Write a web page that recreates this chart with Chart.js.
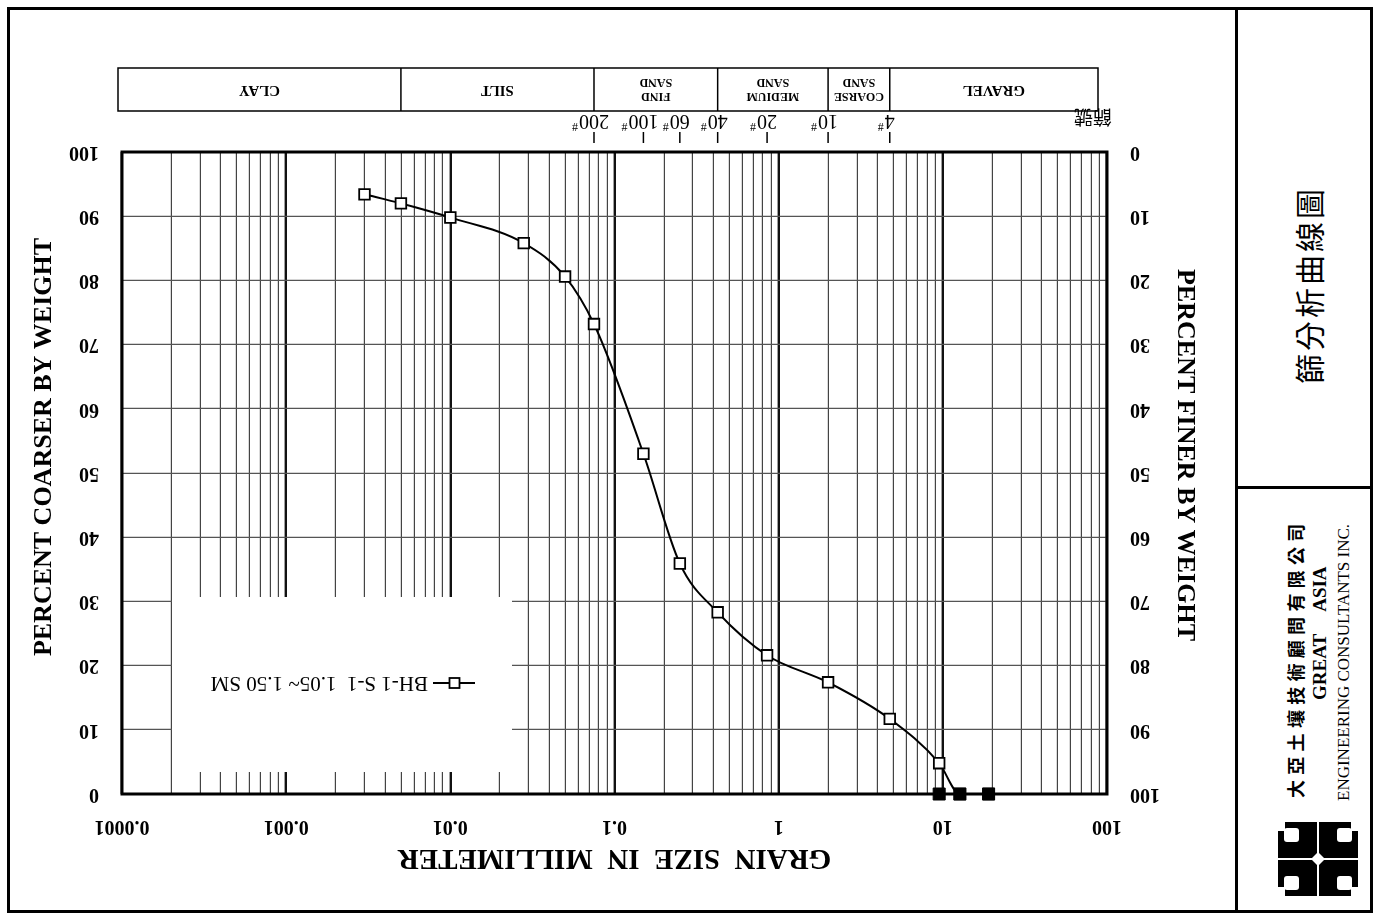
<!DOCTYPE html>
<html>
<head>
<meta charset="utf-8">
<title>篩分析曲線圖</title>
<script src="https://cdn.jsdelivr.net/npm/chart.js@4.4.1/dist/chart.umd.min.js"></script>
<style>
  html, body { margin: 0; padding: 0; background: #fff; }
  #page { position: relative; width: 1374px; height: 915px; overflow: hidden; background: #fff; }
  #frame { position: absolute; left: 7px; top: 7px; width: 1366px; height: 906px; box-sizing: border-box; border: 3px solid #000; }
  #vdiv { position: absolute; left: 1235px; top: 7px; width: 3px; height: 906px; background: #000; }
  #hdiv { position: absolute; left: 1235px; top: 486px; width: 138px; height: 3px; background: #000; }
  /* the sheet is printed upside down, so the whole chart is turned */
  #chartBox { position: absolute; left: 0; top: 0; width: 1238px; height: 915px; transform: rotate(180deg); }
  .rot { position: absolute; transform: rotate(-90deg); white-space: nowrap; color: #000; }
  #logo { position: absolute; left: 1278px; top: 822px; }
</style>
</head>
<body>
<div id="page">
  <div id="frame"></div>
  <div id="vdiv"></div>
  <div id="hdiv"></div>

  <div id="chartBox"><canvas id="sieveChart" width="1238" height="915"></canvas></div>

  <div class="rot" style="left:1196px; top:265px; width:220px; height:40px; line-height:40px; text-align:center; font:30px 'Noto Sans CJK TC'; letter-spacing:3px;">篩分析曲線圖</div>

  <div class="rot" style="left:1150px; top:640px; width:290px; height:26px; line-height:26px; font:bold 18px 'Noto Sans CJK TC'; letter-spacing:5.3px;">大亞土壤技術顧問有限公司</div>
  <div class="rot" style="left:1246px; top:613px; width:150px; height:24px; line-height:24px; font:bold 19px 'Liberation Serif';">GREAT<span style="margin-left:22px">ASIA</span></div>
  <div class="rot" style="left:1195px; top:640px; width:300px; height:22px; line-height:22px; font:17px 'Liberation Serif';">ENGINEERING CONSULTANTS INC.</div>

  <svg id="logo" width="80" height="74" viewBox="0 0 80 74">
    <g id="q">
      <rect x="0" y="0" width="39" height="36" fill="#000"/>
      <rect x="0" y="0" width="7" height="9" fill="#fff"/>
      <rect x="6" y="6" width="15" height="14" rx="3" fill="#fff"/>
    </g>
    <use href="#q" transform="translate(80,0) scale(-1,1)"/>
    <use href="#q" transform="translate(0,74) scale(1,-1)"/>
    <use href="#q" transform="translate(80,74) scale(-1,-1)"/>
    <polygon points="40,30 47,37 40,44 33,37" fill="#fff"/>
  </svg>
</div>

<script>
// BH-1 S-1, 1.05~1.50 m : grain size (mm) and percent finer (%)
const grainSize = [0.003, 0.005, 0.01, 0.028, 0.05, 0.075, 0.15, 0.25, 0.425, 0.85, 2.0, 4.75, 9.5, 12.7, 19.0];
const percentFiner = [6.6, 8.0, 10.2, 14.2, 19.4, 26.8, 47.0, 64.1, 71.7, 78.4, 82.6, 88.3, 95.2, 100, 100];

// coarse fraction, all passing
const coarseSize = [9.5, 12.7, 19.0];
const coarseFiner = [100, 100, 100];

// sieve numbers along the size axis
const sieveNo = ['4', '10', '20', '40', '60', '100', '200'];
const sieveSize = [4.75, 2.0, 0.85, 0.425, 0.25, 0.15, 0.075];

// soil classes, coarse to fine, and the sizes between them
const soilClass = ['GRAVEL', 'COARSE\nSAND', 'MEDIUM\nSAND', 'FIND\nSAND', 'SILT', 'CLAY'];
const classLimit = [4.75, 2.0, 0.425, 0.075, 0.005];

// size axis
const xDecades = [0.0001, 0.001, 0.01, 0.1, 1, 10, 100];
const xTickLabels = ['0.0001', '0.001', '0.01', '0.1', '1', '10', '100'];

const legendLabel = 'BH-1 S-1  1.05~ 1.50 SM';

const serif = '"Liberation Serif"';
Chart.defaults.font.family = serif;
Chart.defaults.color = '#000';

// 1..9 lines inside each decade
const gridValues = [];
xDecades.forEach((d, i) => {
  const steps = i === xDecades.length - 1 ? [1] : [1, 2, 3, 4, 5, 6, 7, 8, 9];
  steps.forEach(m => gridValues.push(Number((m * d).toPrecision(6))));
});

const isDecade = (v) => xDecades.some(d => Math.abs(v - d) / d < 1e-6);

const sheetPlugin = {
  id: 'sheet',
  beforeDatasetsDraw(chart) {
    const { ctx, chartArea: a } = chart;
    ctx.save();
    // legend panel hides the grid behind it
    ctx.fillStyle = '#fff';
    ctx.fillRect(a.right - 390, a.top + 22, 340, 175);
    ctx.strokeStyle = '#000';
    ctx.lineWidth = 3;
    ctx.strokeRect(a.left, a.top, a.right - a.left, a.bottom - a.top);
    ctx.restore();
  },
  afterDraw(chart) {
    const { ctx, chartArea: a, scales: { x } } = chart;
    ctx.save();
    ctx.fillStyle = '#000';
    ctx.strokeStyle = '#000';

    // legend
    const ly = a.top + 111;
    ctx.lineWidth = 1.8;
    ctx.beginPath();
    ctx.moveTo(a.right - 353, ly);
    ctx.lineTo(a.right - 311, ly);
    ctx.stroke();
    ctx.fillStyle = '#fff';
    ctx.fillRect(a.right - 337.5, ly - 5, 10, 10);
    ctx.strokeRect(a.right - 337.5, ly - 5, 10, 10);
    ctx.fillStyle = '#000';
    ctx.font = '21px ' + serif;
    ctx.textAlign = 'left';
    ctx.textBaseline = 'middle';
    ctx.fillText(legendLabel, a.right - 306, ly);

    // axis titles for the two percent scales
    ctx.font = 'bold 26px ' + serif;
    ctx.textAlign = 'center';
    ctx.save();
    ctx.translate(a.left - 78, a.top + 339);
    ctx.rotate(-Math.PI / 2);
    ctx.fillText('PERCENT FINER BY WEIGHT', 0, 0);
    ctx.restore();
    ctx.save();
    ctx.translate(a.right + 78, a.top + 347);
    ctx.rotate(Math.PI / 2);
    ctx.fillText('PERCENT COARSER BY WEIGHT', 0, 0);
    ctx.restore();

    // sieve numbers
    ctx.lineWidth = 1.5;
    sieveSize.forEach((s, i) => {
      const px = x.getPixelForValue(s);
      ctx.beginPath();
      ctx.moveTo(px, a.bottom + 9);
      ctx.lineTo(px, a.bottom + 20);
      ctx.stroke();
      ctx.font = '20px ' + serif;
      ctx.textAlign = 'center';
      ctx.fillText(sieveNo[i], px, a.bottom + 32);
      const w = ctx.measureText(sieveNo[i]).width;
      ctx.font = '12px ' + serif;
      ctx.textAlign = 'left';
      ctx.fillText('#', px + w / 2 + 1, a.bottom + 26);
    });
    ctx.font = '19px "Noto Sans CJK TC"';
    ctx.textAlign = 'left';
    ctx.fillText('篩號', a.left - 5, a.bottom + 35);

    // soil classification bar
    const top = a.bottom + 41, h = 43;
    const xs = [a.left + 9, ...classLimit.map(v => x.getPixelForValue(v)), a.right + 4];
    ctx.lineWidth = 1.5;
    ctx.strokeRect(xs[0], top, xs[xs.length - 1] - xs[0], h);
    for (let i = 1; i < xs.length - 1; i++) {
      ctx.beginPath();
      ctx.moveTo(xs[i], top);
      ctx.lineTo(xs[i], top + h);
      ctx.stroke();
    }
    ctx.textAlign = 'center';
    soilClass.forEach((name, i) => {
      const mid = (xs[i] + xs[i + 1]) / 2;
      const lines = name.split('\n');
      if (lines.length === 1) {
        ctx.font = 'bold 15px ' + serif;
        ctx.fillText(lines[0], mid, top + h / 2);
      } else {
        ctx.font = 'bold 12px ' + serif;
        ctx.fillText(lines[0], mid, top + h / 2 - 7);
        ctx.fillText(lines[1], mid, top + h / 2 + 7);
      }
    });
    ctx.restore();
  }
};

const ctx = document.getElementById('sieveChart');
new Chart(ctx, {
  type: 'line',
  data: {
    datasets: [{
      label: legendLabel,
      data: grainSize.map((s, i) => ({ x: s, y: percentFiner[i] })),
      yAxisID: 'yFiner',
      order: 1,
      borderColor: '#000',
      borderWidth: 2,
      cubicInterpolationMode: 'monotone',
      pointStyle: 'rect',
      pointRadius: 7.5,
      pointBorderWidth: 1.8,
      pointBackgroundColor: '#fff',
      pointBorderColor: '#000',
      clip: false
    }, {
      label: 'coarse',
      data: coarseSize.map((s, i) => ({ x: s, y: coarseFiner[i] })),
      yAxisID: 'yFiner',
      order: 0,
      showLine: false,
      pointStyle: 'rect',
      pointRadius: 8.5,
      pointBorderWidth: 1,
      pointBackgroundColor: '#000',
      pointBorderColor: '#000',
      clip: false
    }]
  },
  options: {
    responsive: false,
    animation: false,
    layout: { padding: { top: 0, left: 0, right: 0, bottom: 152 } },
    plugins: {
      legend: { display: false },
      tooltip: { enabled: false }
    },
    scales: {
      x: {
        type: 'logarithmic',
        position: 'top',
        reverse: true,
        min: 0.0001,
        max: 100,
        afterBuildTicks: (scale) => { scale.ticks = gridValues.map(v => ({ value: v })); },
        afterFit: (scale) => { scale.height = 121; },
        ticks: {
          autoSkip: false,
          maxRotation: 0,
          padding: 20,
          font: { size: 20, weight: 'bold' },
          callback: (v) => {
            const i = xDecades.findIndex(d => Math.abs(v - d) / d < 1e-6);
            return i >= 0 ? xTickLabels[i] : '';
          }
        },
        grid: {
          drawTicks: false,
          color: (c) => (c.tick && isDecade(c.tick.value)) ? '#111' : '#444',
          lineWidth: (c) => (c.tick && isDecade(c.tick.value)) ? 2.4 : 1.2
        },
        border: { display: false },
        title: {
          display: true,
          text: 'GRAIN  SIZE  IN  MILLIMETER',
          font: { size: 29, weight: 'bold', lineHeight: 1.2 },
          padding: { top: 40, bottom: 0 }
        }
      },
      yFiner: {
        position: 'left',
        min: 0,
        max: 100,
        afterFit: (scale) => { scale.width = 131; },
        ticks: { stepSize: 10, padding: 23, font: { size: 20, weight: 'bold' } },
        grid: { drawTicks: false, color: '#555', lineWidth: 1.3 },
        border: { display: false }
      },
      yCoarser: {
        position: 'right',
        min: 0,
        max: 100,
        reverse: true,
        afterFit: (scale) => { scale.width = 122; },
        ticks: { stepSize: 10, padding: 23, font: { size: 20, weight: 'bold' } },
        grid: { display: false, drawTicks: false },
        border: { display: false }
      }
    }
  },
  plugins: [sheetPlugin]
});
</script>
</body>
</html>
